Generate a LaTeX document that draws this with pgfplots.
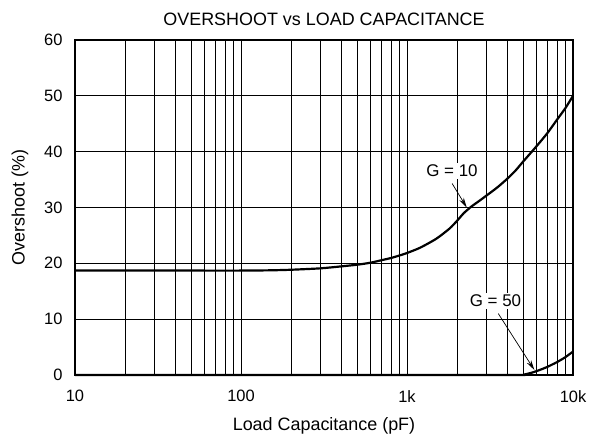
\documentclass[border=0pt]{standalone}
\usepackage{pgfplots}
\pgfplotsset{compat=1.18}
\usepackage{fontspec}
\setmainfont{Liberation Sans}
\usetikzlibrary{arrows.meta}
\begin{document}
\begin{tikzpicture}
\path[use as bounding box] (-75bp,-67bp) rectangle (531bp,375bp);
\begin{axis}[
  at={(0,0)}, anchor=south west,
  scale only axis, width=498bp, height=335bp,
  xmode=log, xmin=10, xmax=10000,
  ymin=0, ymax=60,
  xtick={10,100,1000,10000},
  xticklabels={10,100,1k,10k},
  ytick={0,10,20,30,40,50,60},
  /pgf/number format/assume math mode=true,
  tick style={draw=none},
  grid=both,
  major grid style={black, line width=0.9pt},
  minor grid style={black, line width=0.6pt},
  axis line style={black, line width=1.6pt},
  tick label style={font=\fontsize{16.5}{19}\selectfont},
  label style={font=\fontsize{18}{21}\selectfont},
  title style={font=\fontsize{18}{21}\selectfont, yshift=5bp},
  title={OVERSHOOT vs LOAD CAPACITANCE},
  xlabel={Load Capacitance (pF)},
  ylabel={Overshoot (\%)},
  xticklabel style={yshift=-12bp},
  yticklabel style={xshift=-9bp},
  xlabel style={yshift=-8bp},
  ylabel style={yshift=9bp},
  clip=false,
]
\addplot[black, line width=2.2pt, smooth, tension=0.4] coordinates {
(10,18.7) (50,18.7) (100,18.7) (150,18.75) (200,18.85) (300,19.1) (400,19.45) (500,19.75) (600,20.1) (700,20.55) (800,20.95) (900,21.4) (1000,21.85) (1200,22.8) (1500,24.4) (1800,26.2) (2000,27.6) (2200,29.0) (2450,30.2) (2700,31.1) (3000,32.1) (3500,33.6) (4000,35.1) (4500,36.6) (5000,38.2) (6000,40.9) (7000,43.3) (8000,45.7) (9000,47.8) (10000,50.0)
};
\addplot[black, line width=2.2pt, smooth, tension=0.4] coordinates {
(10,0) (1000,0) (4800,0) (5200,0.15) (5700,0.45) (6300,0.9) (7000,1.45) (8000,2.3) (9000,3.2) (10000,4.2)
};
\node[fill=white, inner sep=2pt, font=\fontsize{17}{20}\selectfont] at (axis cs:1866,36.6) {G = 10};
\draw[-{Stealth[length=10bp,width=5bp]}, line width=0.7pt] (axis cs:1870,34.3) -- (axis cs:2290,30.0);
\node[fill=white, inner sep=2pt, font=\fontsize{17}{20}\selectfont] at (axis cs:3413,13.3) {G = 50};
\draw[-{Stealth[length=10bp,width=5bp]}, line width=0.7pt] (axis cs:3548,11.0) -- (axis cs:5850,0.9);
\end{axis}
\end{tikzpicture}
\end{document}
